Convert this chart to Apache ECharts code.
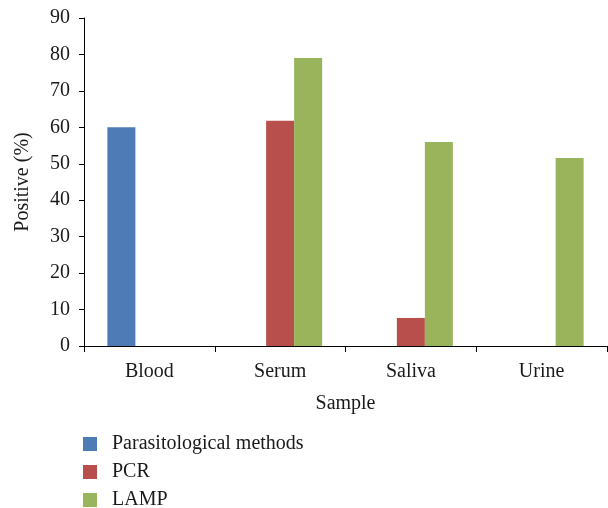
<!DOCTYPE html>
<html>
<head>
<meta charset="utf-8">
<script src="https://cdn.jsdelivr.net/npm/echarts@6/dist/echarts.min.js"></script>
<style>
html,body{margin:0;padding:0;background:#fff;}
#c{width:608px;height:508px;}
</style>
</head>
<body>
<div id="c"></div>
<script>
const categories = ['Blood', 'Serum', 'Saliva', 'Urine'];
const parasitological = [60, 0, 0, 0];
const pcr = [0, 61.8, 7.7, 0];
const lamp = [0, 79, 56, 51.6];
const yTicks = [0, 10, 20, 30, 40, 50, 60, 70, 80, 90];

const FONT = '"Liberation Serif", "DejaVu Serif", serif';
const chart = echarts.init(document.getElementById('c'), null, {renderer: 'canvas'});
chart.setOption({
  animation: false,
  backgroundColor: '#fff',
  textStyle: {fontFamily: FONT, color: '#1a1a1a'},
  grid: {left: 84, right: 1, top: 18, bottom: 162, containLabel: false},
  legend: {
    orient: 'vertical', left: 83, top: 434, height: 120, padding: 0,
    itemWidth: 24, itemHeight: 14, itemGap: 8,
    icon: 'path://M0,0H14V14H0ZM24,0L24,14Z',
    textStyle: {fontFamily: FONT, fontSize: 20, lineHeight: 20, color: '#1a1a1a'},
    itemStyle: {borderWidth: 0},
    data: ['Parasitological methods', 'PCR', 'LAMP']
  },
  xAxis: {
    type: 'category', data: categories,
    name: 'Sample', nameLocation: 'middle', nameGap: 48,
    nameTextStyle: {fontFamily: FONT, fontSize: 20, color: '#1a1a1a'},
    axisLine: {lineStyle: {color: '#000', width: 1}},
    axisTick: {show: true, length: 6, lineStyle: {color: '#000'}},
    axisLabel: {fontFamily: FONT, fontSize: 20, color: '#1a1a1a', margin: 16}
  },
  yAxis: {
    type: 'value', min: 0, max: 90, interval: 10,
    name: 'Positive (%)', nameLocation: 'middle', nameGap: 51, nameRotate: 90,
    nameTextStyle: {fontFamily: FONT, fontSize: 20, color: '#1a1a1a'},
    axisLine: {show: true, lineStyle: {color: '#000', width: 1}},
    axisTick: {show: true, length: 5, lineStyle: {color: '#000'}},
    splitLine: {show: false},
    axisLabel: {fontFamily: FONT, fontSize: 20, color: '#1a1a1a', margin: 14,
      formatter: v => yTicks.includes(v) ? String(v) : ''}
  },
  series: [
    {name: 'Parasitological methods', type: 'bar', data: parasitological, barWidth: 28, barGap: '0%', itemStyle: {color: '#4E7BB5'}},
    {name: 'PCR', type: 'bar', data: pcr, barWidth: 28, barGap: '0%', itemStyle: {color: '#B94F4D'}},
    {name: 'LAMP', type: 'bar', data: lamp, barWidth: 28, barGap: '0%', itemStyle: {color: '#9AB45B'}}
  ]
});
</script>
</body>
</html>
